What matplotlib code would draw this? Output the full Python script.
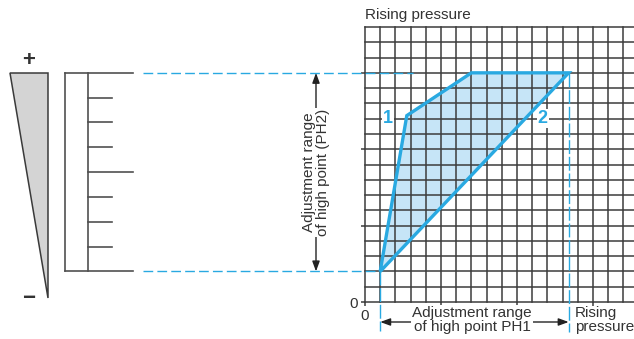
import matplotlib
matplotlib.use('Agg')
import matplotlib.pyplot as plt
import numpy as np
from matplotlib.patches import Polygon, FancyArrowPatch

plt.rcParams['font.family'] = ['Liberation Sans', 'DejaVu Sans']

# ---- data (grid units) ----
region_x = [1.0, 2.75, 7.0, 13.4]      # adjustment region vertices
region_y = [2.0, 12.2, 15.0, 15.0]
ph1_low, ph1_high = 1.0, 13.4           # PH1 range (x)
ph2_low, ph2_high = 2.0, 15.0           # PH2 range (y)
curve_labels = ['1', '2']
curve_label_x = [1.5, 11.7]
curve_label_y = [12.0, 12.0]
tick_vals = [0, 5, 10, 15]
tick_labels = ['0', '', '', '']
n_cols, n_rows = 17.7, 18

BLUE = '#29A9E1'
FILL = '#C6E5F7'
GC = '#3c3c3c'
TXT = '#333333'

W, H = 634, 339
fig = plt.figure(figsize=(W / 100, H / 100), dpi=100)
ax = fig.add_axes([365 / W, 37 / H, 269 / W, 275 / H])
ax.set_xlim(0, n_cols)
ax.set_ylim(0, n_rows)
ax.set_facecolor('none')
for s in ax.spines.values():
    s.set_visible(False)

for i in range(0, 19):
    ax.axhline(i, color=GC, lw=1.1, zorder=1, clip_on=False)
for j in range(0, 18):
    ax.axvline(j, color=GC, lw=1.1, zorder=1, clip_on=False)

ax.set_xticks(tick_vals)
ax.set_xticklabels(tick_labels)
ax.set_yticks(tick_vals)
ax.set_yticklabels(tick_labels)
ax.tick_params(direction='out', length=3, width=1.1, color=GC,
               labelsize=11, labelcolor=TXT, pad=2)

pts = np.column_stack([region_x, region_y])
ax.add_patch(Polygon(pts, closed=True, facecolor=FILL, edgecolor='none', zorder=0.5))
ax.add_patch(Polygon(pts, closed=True, fill=False, edgecolor=BLUE, lw=2.4,
                     joinstyle='miter', zorder=3))

for lab, lx, ly in zip(curve_labels, curve_label_x, curve_label_y):
    ax.text(lx, ly, lab, color=BLUE, fontsize=13, fontweight='bold',
            ha='center', va='center', zorder=4,
            bbox=dict(facecolor='white', edgecolor='none', pad=0.6))

# overlay axes in pixel coordinates
ov = fig.add_axes([0, 0, 1, 1], zorder=5)
ov.set_xlim(0, W)
ov.set_ylim(H, 0)
ov.axis('off')


def g2p(x, y):
    return ov.transData.inverted().transform(ax.transData.transform((x, y)))


_, ytop = g2p(0, ph2_high)
_, ybot = g2p(0, ph2_low)
xlo, _ = g2p(ph1_low, 0)
xhi, _ = g2p(ph1_high, 0)

dash_kw = dict(color=BLUE, lw=1.0, dashes=(7, 3))
ov.plot([143, 413], [ytop, ytop], **dash_kw)
ov.plot([143, xlo], [ybot, ybot], **dash_kw)
ov.plot([xlo, xlo], [ybot, 331], color=BLUE, lw=1.0, dashes=(10, 2))
ov.plot([xhi, xhi], [ytop, 332], color=BLUE, lw=1.0, dashes=(10, 2))

# left wedge
ov.add_patch(Polygon([[10, ytop], [47.5, ytop], [47.5, 298]], closed=True,
                     facecolor='#D4D4D4', edgecolor='#3a3a3a', lw=1.1))
ov.text(29, 60, '+', fontsize=16, fontweight='bold', color=TXT, ha='center', va='center')
ov.text(29, 298, '\u2212', fontsize=16, fontweight='bold', color=TXT, ha='center', va='center')

# left scale
SC = '#505050'
x0, x1, xs, xl = 65, 88, 112, 133
ov.plot([x0, x0], [ytop, ybot], color=SC, lw=1.2)
ov.plot([x1, x1], [ytop, ybot], color=SC, lw=1.2)
ov.plot([x0, xl], [ytop, ytop], color=SC, lw=1.2)
ov.plot([x0, xl], [ybot, ybot], color=SC, lw=1.2)
for k in range(1, 8):
    yk = ytop + k * (ybot - ytop) / 8
    ov.plot([x1, xl if k == 4 else xs], [yk, yk], color=SC, lw=1.2)

# arrows and texts
ov.add_patch(FancyArrowPatch((316, ytop), (316, ybot),
                             arrowstyle='<|-|>,head_length=0.6,head_width=0.22',
                             mutation_scale=10, lw=1.0, color='#222222',
                             shrinkA=0, shrinkB=0))
ov.text(316, (ytop + ybot) / 2, 'Adjustment range\nof high point (PH2)', rotation=90,
        ha='center', va='center', fontsize=11, color=TXT, linespacing=1.0,
        bbox=dict(facecolor='white', edgecolor='none', pad=0.5))

ov.add_patch(FancyArrowPatch((xlo, 322), (xhi, 322),
                             arrowstyle='<|-|>,head_length=0.6,head_width=0.22',
                             mutation_scale=10, lw=1.0, color='#222222',
                             shrinkA=0, shrinkB=0))
ov.text(472, 320, 'Adjustment range\nof high point PH1', ha='center', va='center',
        fontsize=11, color=TXT, linespacing=1.0,
        bbox=dict(facecolor='white', edgecolor='none', pad=0.5))
ov.text(575, 320, 'Rising\npressure', ha='left', va='center',
        fontsize=11, color=TXT, linespacing=1.0)
ov.text(365, 15, 'Rising pressure', ha='left', va='center', fontsize=11, color=TXT)

fig.savefig('out.png', dpi=100)
